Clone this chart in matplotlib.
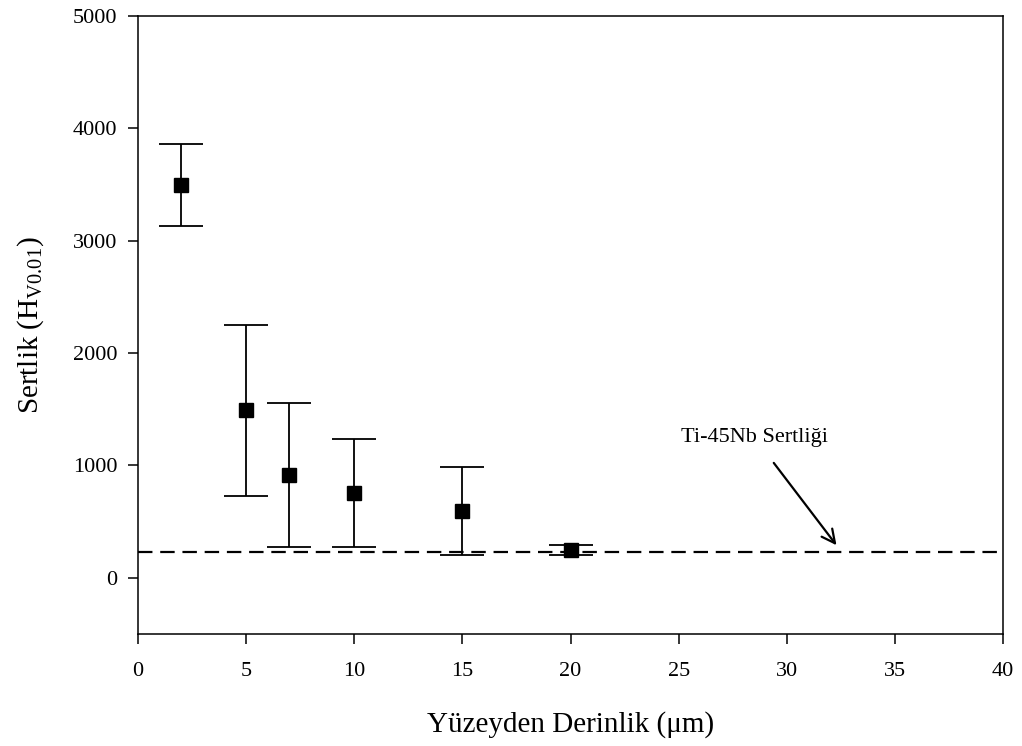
import matplotlib
matplotlib.use("Agg")
import matplotlib.pyplot as plt

plt.rcParams['font.family'] = ['Liberation Serif', 'DejaVu Serif']
plt.rcParams['mathtext.fontset'] = 'custom'
plt.rcParams['mathtext.rm'] = 'Liberation Serif'

# Hardness profile versus depth from the surface
depth = [2, 5, 7, 10, 15, 20]
hardness = [3500, 1490, 915, 753, 595, 247]
hardness_err = [365, 760, 645, 483, 392, 48]

# Reference hardness of the base alloy
base_hardness = 230
base_label = "Ti-45Nb Sertliği"

x_ticks = [0, 5, 10, 15, 20, 25, 30, 35, 40]
y_ticks = [0, 1000, 2000, 3000, 4000, 5000]

fig = plt.figure(figsize=(10.22, 7.46), dpi=100)
ax = fig.add_axes([138 / 1022, 1 - 634 / 746, (1003 - 138) / 1022, (634 - 16) / 746])

ax.errorbar(depth, hardness, yerr=hardness_err, fmt='s', color='black',
            markersize=10.5, ecolor='black', elinewidth=1.3,
            capsize=15.5, capthick=1.3, zorder=3)

ax.plot([0, 40], [base_hardness, base_hardness], color='black',
        linewidth=1.6, dashes=(6.5, 3.5), zorder=2)

ax.annotate(base_label, xy=(32.3, 290), xytext=(28.5, 1250),
            ha='center', va='center', fontsize=16,
            arrowprops=dict(arrowstyle='->', color='black', lw=1.6,
                            mutation_scale=24, shrinkA=12, shrinkB=0))

ax.set_xlim(0, 40)
ax.set_ylim(-500, 5000)
ax.set_xticks(x_ticks)
ax.set_yticks(y_ticks)
ax.tick_params(axis='x', labelsize=16, length=7, width=1.1, direction='out', pad=13)
ax.tick_params(axis='y', labelsize=16, length=7, width=1.1, direction='out', pad=8)
for s in ax.spines.values():
    s.set_linewidth(1.1)

ax.set_xlabel("Yüzeyden Derinlik (μm)", fontsize=21, labelpad=22)
ax.set_ylabel(r"Sertlik (H$_{\mathrm{V0.01}}$)", fontsize=21, labelpad=19)

fig.savefig("out.png", dpi=100)
